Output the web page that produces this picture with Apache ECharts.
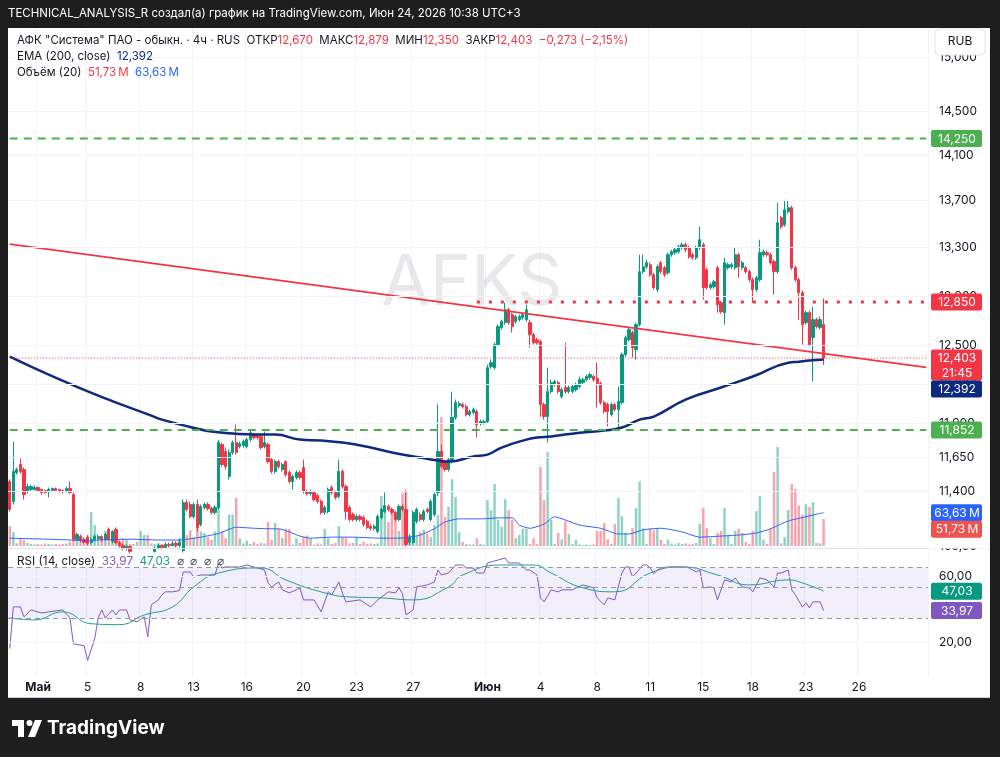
<!DOCTYPE html>
<html>
<head>
<meta charset="utf-8">
<script src="https://cdn.jsdelivr.net/npm/echarts@6/dist/echarts.min.js"></script>
<style>
  html, body { margin: 0; padding: 0; background: #1e1e1e; }
  #chart { width: 1000px; height: 757px; }
</style>
</head>
<body>
<div id="chart"></div>
<script>
// AFKS 4h chart, TradingView look. Prices in RUB, volumes in millions.
// candles: [open, close, low, high], one per 4h bar, oldest first
const candles = [
[11.472,11.271,11.257,11.487],[11.328,11.545,11.307,11.766],[11.537,11.559,11.523,11.574],[11.596,11.545,11.530,11.640],[11.559,11.378,11.342,11.574],
[11.400,11.436,11.385,11.457],[11.414,11.436,11.400,11.450],[11.414,11.428,11.407,11.443],[11.428,11.407,11.400,11.436],[11.414,11.392,11.378,11.421],
[11.407,11.392,11.385,11.414],[11.400,11.414,11.357,11.428],[11.407,11.421,11.400,11.428],[11.421,11.407,11.400,11.428],[11.414,11.400,11.392,11.421],
[11.407,11.400,11.385,11.414],[11.400,11.421,11.392,11.436],[11.421,11.392,11.385,11.472],[11.378,11.060,11.046,11.392],[11.060,11.095,11.053,11.108],
[11.081,11.053,11.039,11.095],[11.060,11.039,11.025,11.074],[11.074,11.032,11.018,11.088],[11.039,11.060,11.025,11.074],[11.060,11.081,11.053,11.095],
[11.067,11.081,11.060,11.095],[11.081,11.060,11.046,11.088],[11.060,11.095,11.053,11.108],[11.130,11.060,11.053,11.144],[11.046,11.116,11.032,11.123],
[11.130,11.039,11.025,11.144],[11.039,11.018,11.004,11.053],[11.018,10.997,10.983,11.032],[10.997,11.011,10.983,11.025],[11.011,10.976,10.962,11.018],
[10.976,10.990,10.962,10.997],[10.990,10.955,10.941,10.997],[10.955,10.976,10.941,10.983],[10.976,10.983,10.962,10.997],[10.983,10.886,10.866,10.990],
[10.886,10.976,10.873,10.990],[10.976,10.997,10.969,11.011],[10.997,11.018,10.990,11.032],[11.018,11.004,10.990,11.025],[11.004,11.025,10.997,11.039],
[11.025,11.018,11.004,11.039],[11.018,11.032,11.011,11.046],[11.032,11.018,11.004,11.046],[11.018,11.039,11.004,11.060],[10.983,11.321,10.969,11.342],
[11.321,11.271,11.257,11.342],[11.307,11.221,11.207,11.328],[11.221,11.307,11.207,11.321],[11.307,11.144,11.116,11.342],[11.165,11.292,11.151,11.307],
[11.285,11.307,11.271,11.321],[11.307,11.278,11.264,11.321],[11.278,11.250,11.235,11.292],[11.250,11.285,11.235,11.300],[11.285,11.758,11.271,11.780],
[11.743,11.596,11.581,11.758],[11.692,11.581,11.559,11.721],[11.508,11.684,11.486,11.706],[11.684,11.758,11.669,11.773],[11.758,11.684,11.669,11.892],
[11.728,11.751,11.714,11.766],[11.736,11.766,11.721,11.780],[11.728,11.780,11.714,11.795],[11.780,11.832,11.766,11.847],[11.818,11.795,11.780,11.832],
[11.810,11.795,11.780,11.825],[11.803,11.721,11.706,11.818],[11.728,11.758,11.714,11.840],[11.743,11.618,11.603,11.758],[11.632,11.545,11.530,11.647],
[11.545,11.618,11.530,11.632],[11.618,11.581,11.566,11.632],[11.559,11.596,11.545,11.610],[11.618,11.523,11.508,11.625],[11.537,11.472,11.457,11.552],
[11.472,11.508,11.414,11.523],[11.501,11.537,11.486,11.552],[11.537,11.501,11.486,11.552],[11.574,11.400,11.385,11.632],[11.400,11.385,11.371,11.414],
[11.385,11.400,11.371,11.414],[11.392,11.342,11.328,11.407],[11.371,11.328,11.314,11.385],[11.328,11.250,11.235,11.342],[11.250,11.285,11.235,11.300],
[11.257,11.414,11.243,11.428],[11.428,11.392,11.378,11.443],[11.392,11.357,11.342,11.407],[11.364,11.545,11.350,11.632],[11.545,11.436,11.421,11.559],
[11.436,11.257,11.200,11.450],[11.285,11.200,11.186,11.300],[11.235,11.200,11.186,11.250],[11.200,11.221,11.186,11.235],[11.221,11.200,11.186,11.235],
[11.214,11.165,11.151,11.228],[11.186,11.144,11.130,11.200],[11.151,11.137,11.123,11.165],[11.137,11.151,11.123,11.165],[11.116,11.221,11.102,11.235],
[11.214,11.271,11.200,11.285],[11.257,11.300,11.243,11.392],[11.292,11.271,11.257,11.307],[11.271,11.250,11.235,11.285],[11.250,11.200,11.186,11.264],
[11.200,11.292,11.186,11.307],[11.292,11.271,11.257,11.307],[11.271,11.025,11.011,11.414],[11.039,11.074,11.018,11.095],[11.039,11.250,11.025,11.264],
[11.186,11.271,11.172,11.285],[11.235,11.200,11.186,11.250],[11.200,11.257,11.186,11.271],[11.271,11.257,11.243,11.285],[11.200,11.328,11.186,11.342],
[11.235,11.378,11.221,11.392],[11.392,11.692,11.364,12.044],[11.692,11.581,11.566,11.743],[11.618,11.559,11.545,11.632],[11.559,11.632,11.545,11.647],
[11.618,11.945,11.603,12.143],[11.945,12.059,11.930,12.082],[12.036,12.051,12.021,12.067],[12.044,12.028,12.013,12.059],[12.028,11.968,11.953,12.044],
[11.968,11.991,11.953,12.006],[11.983,12.006,11.968,12.021],[11.991,11.892,11.795,12.006],[11.900,11.915,11.885,11.930],[11.907,11.915,11.892,11.930],
[11.915,12.328,11.900,12.352],[12.336,12.367,12.320,12.391],[12.328,12.509,12.312,12.524],[12.509,12.652,12.493,12.668],[12.644,12.692,12.628,12.708],
[12.684,12.788,12.668,12.845],[12.788,12.684,12.668,12.804],[12.748,12.652,12.604,12.764],[12.692,12.732,12.676,12.748],[12.708,12.732,12.692,12.748],
[12.724,12.748,12.708,12.764],[12.708,12.788,12.692,12.829],[12.684,12.588,12.485,12.708],[12.588,12.524,12.509,12.604],[12.548,12.524,12.509,12.564],
[12.532,12.044,11.953,12.548],[12.044,11.953,11.930,12.059],[11.953,12.143,11.758,12.328],[12.143,12.212,12.128,12.235],[12.197,12.220,12.182,12.235],
[12.212,12.143,12.128,12.228],[12.105,12.158,12.090,12.174],[12.174,12.143,12.128,12.524],[12.143,12.174,12.128,12.189],[12.143,12.182,12.128,12.197],
[12.158,12.197,12.143,12.212],[12.182,12.235,12.167,12.259],[12.212,12.235,12.197,12.251],[12.235,12.259,12.220,12.274],[12.251,12.274,12.235,12.290],
[12.259,12.235,12.220,12.274],[12.243,12.205,12.021,12.367],[12.205,12.059,12.044,12.220],[12.059,11.991,11.976,12.074],[12.044,11.991,11.877,12.059],
[11.968,12.044,11.953,12.059],[12.044,12.006,11.991,12.059],[12.006,12.067,11.855,12.182],[12.059,12.430,12.044,12.446],[12.430,12.564,12.414,12.580],
[12.548,12.628,12.532,12.644],[12.604,12.485,12.406,12.620],[12.469,12.668,12.391,12.684],[12.668,13.099,12.652,13.240],[13.099,13.140,13.082,13.240],
[13.140,13.173,13.123,13.198],[13.157,13.074,13.057,13.173],[13.074,12.967,12.951,13.090],[12.951,13.140,12.934,13.157],[13.173,13.099,13.082,13.190],
[13.132,13.074,13.057,13.148],[13.090,13.240,13.074,13.257],[13.240,13.265,13.223,13.282],[13.257,13.282,13.240,13.299],[13.265,13.307,13.248,13.324],
[13.299,13.324,13.282,13.341],[13.324,13.282,13.265,13.341],[13.299,13.223,13.207,13.316],[13.240,13.215,13.198,13.257],[13.215,13.299,13.198,13.316],
[13.299,13.366,13.282,13.476],[13.324,12.967,12.869,13.341],[13.115,12.967,12.951,13.132],[12.967,12.992,12.951,13.008],[12.975,13.016,12.959,13.033],
[13.132,12.829,12.764,13.148],[12.845,12.772,12.756,12.861],[12.764,13.173,12.668,13.215],[13.132,13.157,13.115,13.173],[13.140,13.157,13.123,13.173],
[13.132,13.240,13.115,13.299],[13.240,13.140,13.049,13.257],[13.132,13.173,13.115,13.190],[13.132,13.099,13.082,13.148],[13.099,13.033,13.016,13.115],
[13.033,12.951,12.845,13.049],[12.951,13.049,12.934,13.066],[13.033,13.257,13.016,13.366],[13.240,13.265,13.223,13.282],[13.257,13.240,13.223,13.274],
[13.240,13.173,13.157,13.257],[13.182,13.099,12.910,13.198],[13.099,13.510,13.082,13.682],[13.553,13.476,13.459,13.570],[13.493,13.622,13.476,13.708],
[13.605,13.639,13.588,13.708],[13.639,13.132,13.115,13.656],[13.132,13.033,13.016,13.148],[13.033,12.926,12.708,13.049],[12.926,12.668,12.509,12.942],
[12.684,12.764,12.668,12.780],[12.764,12.509,12.493,12.780],[12.564,12.708,12.220,12.813],[12.708,12.652,12.636,12.724],[12.644,12.708,12.628,12.732],
[12.670,12.403,12.350,12.879]
];

// volume per bar, millions
const volumes = [
38,27,5,13,12, 6,4,3,4,3, 5,4,3,4,3, 4,5,8,11,17, 8,4,21,65,40, 17,13,29,25,15,
13,8,15,12,4, 4,8,29,21,21, 5,4,5,3,4, 4,5,6,15,20, 21,30,17,60,28, 25,17,12,28,107,
28,15,60,60,92, 15,5,10,4,8, 4,6,5,46,12, 44,33,15,33,33, 3,15,6,17,20, 15,3,5,3,33,
15,4,6,38,17, 15,5,6,16,4, 8,4,5,4,5, 96,69,46,69,59, 29,101,103,21,27, 19,27,31,23,17,
40,59,247,56,75, 128,94,27,8,4, 3,3,15,4,3, 88,69,119,50,37, 90,69,50,15,21, 33,33,4,15,4,
151,88,180,50,4, 25,13,48,23,4, 12,3,2,3,2, 3,29,29,44,13, 4,42,92,57,25, 4,34,73,124,34,
4,33,30,33,12, 4,12,5,3,6, 4,5,3,4,6, 42,73,34,15,4, 25,29,73,21,4, 29,33,25,8,4,
29,67,96,12,4, 33,142,190,5,17, 69,119,109,78,60, 80,75,84,6,5, 52
];

// indicator lines as [barIndex, value]
const emaPts = [[0,12.414],[11,12.274],[25,12.112],[40,11.960],[43,11.930],[54,11.855],[57,11.840],[69,11.818],[75,11.818],[82,11.780],[88,11.773],[94,11.758],[102,11.721],[108,11.684],[116,11.647],[121,11.625],[124,11.618],[131,11.655],[135,11.669],[139,11.721],[146,11.780],[149,11.795],[153,11.803],[161,11.832],[168,11.847],[173,11.870],[178,11.930],[182,11.953],[191,12.082],[201,12.174],[210,12.259],[220,12.367],[223,12.375],[226,12.383],[230,12.392]];
const volMaPts = [[0,15],[11,13],[17,11.5],[23,9.6],[25,11.5],[34,13],[42,11.5],[48,11.5],[54,17],[59,24],[64,36],[69,34],[74,33],[76,33],[79,27],[82,19],[85,15],[91,17],[96,17],[105,15],[110,15],[116,21],[120,33],[123,46],[127,52],[133,52],[139,54],[142,54],[144,40],[147,34],[151,42],[154,56],[157,50],[161,40],[167,34],[172,23],[175,23],[179,31],[184,34],[190,27],[195,17],[201,19],[206,21],[211,25],[215,33],[220,48],[225,56],[228,61],[230,63.63]];
const rsiPts = [[0,17.9],[1,36.1],[3,36.1],[4,30.5],[6,34.3],[9,32.6],[11,33.2],[15,34.3],[17,30.0],[18,19.4],[21,18.8],[22,14.7],[24,21.1],[25,30.0],[26,34.3],[27,30.0],[29,34.3],[30,31.5],[31,34.3],[33,34.3],[34,29.0],[36,28.1],[38,30.5],[39,21.8],[40,37.4],[42,40.6],[43,44.2],[44,46.5],[46,46.5],[48,47.5],[49,64.9],[51,64.9],[52,59.7],[54,61.7],[56,61.7],[58,61.7],[59,75.5],[60,69.4],[61,70.6],[65,70.6],[67,73.0],[69,70.6],[72,67.1],[73,54.0],[74,50.5],[76,54.9],[77,48.1],[79,45.7],[81,48.1],[82,49.7],[83,40.6],[86,40.6],[88,33.2],[90,46.5],[91,44.2],[93,54.9],[94,45.7],[95,39.3],[99,40.6],[102,36.1],[104,40.6],[107,46.5],[109,45.7],[110,49.7],[111,45.0],[112,31.5],[114,34.3],[115,50.5],[118,52.2],[120,54.9],[121,67.1],[122,61.7],[124,63.8],[126,73.0],[128,73.0],[129,69.4],[131,69.4],[132,63.8],[134,63.8],[135,75.5],[138,79.4],[140,82.1],[141,75.5],[144,75.5],[146,67.1],[147,67.1],[149,61.7],[150,42.0],[151,39.3],[153,48.1],[155,46.5],[156,48.1],[159,48.1],[160,49.7],[162,52.2],[164,50.5],[165,49.7],[166,42.0],[168,37.4],[169,42.0],[171,40.6],[173,63.8],[174,70.6],[175,70.6],[176,59.7],[177,63.8],[179,73.0],[180,73.0],[181,69.4],[182,63.0],[183,67.0],[184,69.4],[186,70.6],[189,70.6],[191,70.6],[192,69.4],[194,64.9],[195,67.1],[196,49.7],[198,50.5],[199,49.7],[200,40.6],[202,56.8],[204,54.9],[205,58.7],[207,50.5],[209,49.7],[210,46.5],[212,58.7],[214,56.8],[216,50.5],[217,63.8],[218,63.8],[220,67.1],[221,48.1],[222,44.2],[223,40.0],[224,36.0],[225,38.6],[226,35.5],[227,39.3],[229,39.3],[230,33.97]];
const rsiMaPts = [[0,30.0],[7,29.0],[15,33.2],[23,27.2],[31,26.8],[38,31.5],[46,36.1],[52,50.5],[59,63.8],[71,69.4],[78,56.8],[89,45.7],[96,42.7],[105,42.0],[114,40.6],[124,50.5],[128,61.7],[139,73.0],[148,73.0],[153,63.8],[162,49.7],[171,46.5],[181,63.8],[190,70.6],[200,61.7],[209,52.2],[220,56.8],[224,54.0],[230,47.03]];

// drawn levels
const supportLevels = [14.250, 11.852];
const resistLevel = 12.850, resistFrom = 132;
const trendPts = [[0, 13.330], [259, 12.330]];
const lastClose = 12.403, lastEma = 12.392, lastVol = 51.73, lastVolMa = 63.63, lastRsi = 33.97, lastRsiMa = 47.03;
const lastChange = -0.273, lastChangePct = -2.15, countdown = '21:45';

// axes
const barCount = 260; // bars incl. empty space on the right
const dayTickIdx = [8, 22, 37, 52, 67, 83, 98, 114, 135, 150, 166, 181, 196, 210, 225, 240];
const dayTickText = ['Май', '5', '8', '13', '16', '20', '23', '27', 'Июн', '4', '8', '11', '15', '18', '23', '26'];
const priceTicks = [15.0, 14.5, 14.1, 13.7, 13.3, 12.9, 12.5, 12.2, 11.9, 11.65, 11.4];
const rsiTicks = [60, 20];

const UP = '#089981', DOWN = '#f23645', EMA_C = '#0e2a80', FONT = 'Inter, "Noto Sans", sans-serif';
const cats = Array.from({ length: barCount }, (_, i) => String(i));
const tickMap = {};
dayTickIdx.forEach((k, j) => (tickMap[k] = dayTickText[j]));
const isTick = (i) => tickMap[i] !== undefined;
const fmtP = (v) => v.toFixed(3).replace('.', ',');
const fmt2 = (v) => v.toFixed(2).replace('.', ',');
const fullLine = (v) => [[0, v], [barCount - 1, v]];

function xAxisFor(gi) {
  return {
    type: 'category', gridIndex: gi, data: cats, boundaryGap: true,
    axisLine: { show: false }, axisTick: { show: false },
    axisLabel: gi === 2 ? {
      interval: (i) => isTick(i), margin: 5, color: '#131722', fontSize: 12, fontFamily: FONT,
      formatter: (v) => { const t = tickMap[+v]; return /[А-я]/.test(t) ? '{b|' + t + '}' : t; },
      rich: { b: { fontWeight: 'bold', fontSize: 12, fontFamily: FONT, color: '#131722' } },
    } : { show: false },
    splitLine: { show: gi !== 1, interval: (i) => isTick(i), lineStyle: { color: '#f0f3fa', width: 1 } },
  };
}

const option = {
  animation: false,
  backgroundColor: '#ffffff',
  grid: [
    { left: 8, right: 72, top: 28, height: 520 },
    { left: 8, right: 72, top: 401, height: 145 },
    { left: 8, right: 72, top: 549, height: 127 },
  ],
  xAxis: [xAxisFor(0), xAxisFor(1), xAxisFor(2)],
  yAxis: [
    { type: 'log', gridIndex: 0, min: 11.0, max: 15.28, show: false },
    { type: 'value', gridIndex: 1, min: 0, max: 278, show: false },
    { type: 'log', gridIndex: 2, min: 11.3, max: 95.5, show: false },
  ],
  series: [
    { type: 'line', xAxisIndex: 0, yAxisIndex: 0, data: [], silent: true,
      markLine: { silent: true, symbol: 'none', label: { show: false }, lineStyle: { color: '#f0f3fa', type: 'solid', width: 1 },
        data: priceTicks.map((v) => ({ yAxis: v })) } },
    { type: 'line', xAxisIndex: 2, yAxisIndex: 2, data: [], silent: true,
      markLine: { silent: true, symbol: 'none', label: { show: false }, lineStyle: { color: '#f0f3fa', type: 'solid', width: 1 },
        data: rsiTicks.map((v) => ({ yAxis: v })) } },
    { type: 'bar', xAxisIndex: 1, yAxisIndex: 1, barWidth: '70%', silent: true,
      data: volumes.map((v, i) => ({ value: v, itemStyle: { color: candles[i][1] >= candles[i][0] ? 'rgba(8,153,129,0.45)' : 'rgba(242,54,69,0.45)' } })) },
    { type: 'line', xAxisIndex: 1, yAxisIndex: 1, data: volMaPts, symbol: 'none', smooth: 0.2, silent: true,
      lineStyle: { color: '#2962ff', width: 1 } },
    { type: 'candlestick', xAxisIndex: 0, yAxisIndex: 0, data: candles, barWidth: '78%', silent: true,
      itemStyle: { color: UP, color0: DOWN, borderColor: UP, borderColor0: DOWN, borderWidth: 1 } },
    { type: 'line', xAxisIndex: 0, yAxisIndex: 0, data: emaPts, symbol: 'none', smooth: true, silent: true,
      lineStyle: { color: EMA_C, width: 2.5 } },
    { type: 'line', xAxisIndex: 0, yAxisIndex: 0, data: trendPts, symbol: 'none', silent: true,
      lineStyle: { color: '#f23645', width: 1.8 } },
    ...supportLevels.map((v) => ({ type: 'line', xAxisIndex: 0, yAxisIndex: 0, data: fullLine(v), symbol: 'none', silent: true,
      lineStyle: { color: '#4caf50', width: 2, type: [8, 6] } })),
    { type: 'line', xAxisIndex: 0, yAxisIndex: 0, data: [[resistFrom, resistLevel], [barCount - 1, resistLevel]], symbol: 'none', silent: true,
      lineStyle: { color: '#f23645', width: 3, type: [3, 9] } },
    { type: 'line', xAxisIndex: 0, yAxisIndex: 0, data: fullLine(lastClose), symbol: 'none', silent: true,
      lineStyle: { color: '#f23645', width: 1, type: [1, 2] } },
    { type: 'line', xAxisIndex: 2, yAxisIndex: 2, data: rsiPts, symbol: 'none', silent: true,
      lineStyle: { color: '#7e57c2', width: 1 },
      markArea: { silent: true, itemStyle: { color: 'rgba(126,87,194,0.1)' }, data: [[{ yAxis: 30 }, { yAxis: 70 }]] },
      markLine: { silent: true, symbol: 'none', label: { show: false }, lineStyle: { color: '#9598a1', type: [5, 4], width: 1 },
        data: [{ yAxis: 70 }, { yAxis: 50 }, { yAxis: 30 }] } },
    { type: 'line', xAxisIndex: 2, yAxisIndex: 2, data: rsiMaPts, symbol: 'none', smooth: true, silent: true,
      lineStyle: { color: '#1f9e89', width: 1 } },
  ],
};

const chart = echarts.init(document.getElementById('chart'), null, { renderer: 'canvas' });
chart.setOption(option);

// right-hand scale labels and overlays, placed through the chart's own scales
const py = (v) => chart.convertToPixel({ yAxisIndex: 0 }, v);
const pv = (v) => chart.convertToPixel({ yAxisIndex: 1 }, v);
const pr = (v) => chart.convertToPixel({ yAxisIndex: 2 }, v);

function text(x, y, s, fill, size, extra = {}) {
  return { type: 'text', z: extra.z || 50, silent: true,
    style: { x, y, text: s, fill, font: `${extra.weight || 'normal'} ${size}px ${FONT}`, align: extra.align || 'left', verticalAlign: 'middle' } };
}
function rect(x, y, w, h, fill, z = 60, r = 2, stroke) {
  return { type: 'rect', z, silent: true, shape: { x, y, width: w, height: h, r }, style: stroke ? { fill, stroke } : { fill } };
}
function tag(yc, s, bg) {
  return [rect(931, yc - 8.5, 51, 17, bg), text(957, yc + 0.5, s, '#ffffff', 12, { align: 'center', z: 61 })];
}

const G = [];
// watermark
G.push({ type: 'text', z: 0, silent: true, style: { x: 472, y: 284, text: 'AFKS', fill: 'rgba(149,152,161,0.22)', font: `normal 70px ${FONT}`, align: 'center', verticalAlign: 'middle' } });
// price scale
priceTicks.forEach((v) => G.push(text(939, py(v), fmtP(v), '#131722', 12)));
rsiTicks.forEach((v) => G.push(text(939, pr(v), fmt2(v), '#131722', 12)));
G.push(text(939, pr(100), '100,00', '#131722', 12));
G.push(rect(928, 536, 62, 12.5, '#ffffff', 55, 0));
G.push(rect(935, 29, 50, 26, '#ffffff', 62, 4, '#e0e3eb'), text(960, 41.5, 'RUB', '#131722', 12, { align: 'center', z: 63 }));
// level tags
supportLevels.forEach((v) => G.push(...tag(py(v), fmtP(v), '#4caf50')));
G.push(...tag(py(resistLevel), fmtP(resistLevel), '#f23645'));
const yc = py(lastClose);
G.push(rect(931, yc - 8.5, 51, 31, '#f23645'),
  text(957, yc + 0.5, fmtP(lastClose), '#ffffff', 12, { align: 'center', z: 61 }),
  text(957, yc + 15, countdown, '#ffffff', 12, { align: 'center', z: 61 }));
G.push(...tag(yc + 31, fmtP(lastEma), EMA_C));
const yv = pv(lastVolMa);
G.push(...tag(yv, fmt2(lastVolMa) + '\u2009M', '#2962ff'));
G.push(...tag(yv + 16.5, fmt2(lastVol) + '\u2009M', '#ef5350'));
G.push(...tag(pr(lastRsiMa), fmt2(lastRsiMa), '#089981'));
G.push(...tag(pr(lastRsi), fmt2(lastRsi), '#7e57c2'));
// pane separators
G.push({ type: 'line', z: 40, silent: true, shape: { x1: 8, y1: 548.5, x2: 990, y2: 548.5 }, style: { stroke: '#e0e3eb', lineWidth: 1 } });
G.push({ type: 'line', z: 40, silent: true, shape: { x1: 8, y1: 697.5, x2: 990, y2: 697.5 }, style: { stroke: '#d1d4dc', lineWidth: 1 } });

// legends
const LS = 11.5;
const rich = {
  t: { fill: '#131722', fontSize: LS, fontFamily: FONT },
  r: { fill: '#f23645', fontSize: LS, fontFamily: FONT },
  n: { fill: EMA_C, fontSize: LS, fontFamily: FONT },
  b: { fill: '#2962ff', fontSize: LS, fontFamily: FONT },
  p: { fill: '#7e57c2', fontSize: 11.75, fontFamily: FONT },
  g: { fill: '#1f9e89', fontSize: 11.75, fontFamily: FONT },
  d: { fill: '#50535e', fontSize: 11.75, fontFamily: FONT },
  s: { fill: '#131722', fontSize: 11.75, fontFamily: FONT },
};
const last = candles[candles.length - 1];
const chg = (lastChange < 0 ? '\u2212' : '') + fmtP(Math.abs(lastChange)) + ' (' + (lastChangePct < 0 ? '\u2212' : '') + fmt2(Math.abs(lastChangePct)) + '%)';
function richText(x, y, s) {
  return { type: 'text', z: 50, silent: true, style: { x, y, text: s, rich, font: `${LS}px ${FONT}`, fill: '#131722', verticalAlign: 'middle' } };
}
G.push(richText(17, 41, '{t|АФК "Система" ПАО - обыкн. · 4ч · RUS}  {t|ОТКР}{r|' + fmtP(last[0]) + '}  {t|МАКС}{r|' + fmtP(last[3]) +
  '}  {t|МИН}{r|' + fmtP(last[2]) + '}  {t|ЗАКР}{r|' + fmtP(last[1]) + '}  {r|' + chg + '}'));
G.push(richText(17, 57, '{t|EMA (200, close)}  {n|' + fmtP(lastEma) + '}'));
G.push(richText(17, 73, '{t|Объём (20)}  {r|' + fmt2(lastVol) + '\u2009M}  {b|' + fmt2(lastVolMa) + '\u2009M}'));
G.push(richText(17, 561, '{s|RSI (14, close)}  {p|' + fmt2(lastRsi) + '}  {g|' + fmt2(lastRsiMa) + '}  {d|⌀  ⌀  ⌀  ⌀}'));

// dark frame, header and logo
const DARK = '#1e1e1e';
G.push(rect(0, 0, 1000, 28, DARK, 100, 0), rect(0, 0, 8, 757, DARK, 100, 0), rect(990, 0, 10, 757, DARK, 100, 0), rect(0, 698, 1000, 59, DARK, 100, 0));
G.push(text(8, 14, 'TECHNICAL_ANALYSIS_R создал(а) график на TradingView.com, Июн 24, 2026 10:38 UTC+3', '#ffffff', 11.5, { z: 101 }));
G.push(rect(12, 720, 12, 6, '#ffffff', 101, 0), rect(18, 720, 6, 17, '#ffffff', 101, 0));
G.push({ type: 'circle', z: 101, silent: true, shape: { cx: 29.5, cy: 723, r: 3 }, style: { fill: '#ffffff' } });
G.push({ type: 'polygon', z: 101, silent: true, shape: { points: [[35, 720], [42, 720], [35, 737], [28, 737]] }, style: { fill: '#ffffff' } });
G.push(text(47, 728.5, 'TradingView', '#ffffff', 19, { weight: 'bold', z: 101 }));

chart.setOption({ graphic: G });
</script>
</body>
</html>
